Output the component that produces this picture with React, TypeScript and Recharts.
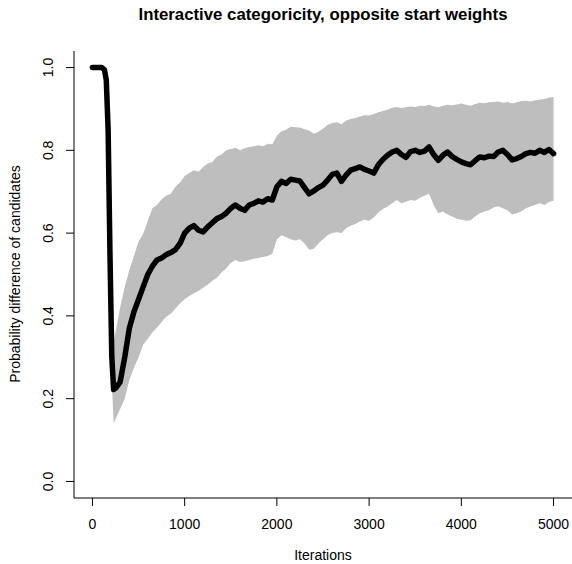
import { ComposedChart, Area, Line, XAxis, YAxis } from "recharts";

const FONT = '"Liberation Sans", Arial, Helvetica, sans-serif';

// iteration grid (x)
const iterations = [
  0, 50, 100, 130, 150, 170, 190, 210, 230,
  250, 300, 350, 400, 450, 500, 550, 600, 650, 700,
  750, 800, 850, 900, 950, 1000, 1050, 1100, 1150, 1200,
  1250, 1300, 1350, 1400, 1450, 1500, 1550, 1600, 1650, 1700,
  1750, 1800, 1850, 1900, 1950, 2000, 2050, 2100, 2150, 2200,
  2250, 2300, 2350, 2400, 2450, 2500, 2550, 2600, 2650, 2700,
  2750, 2800, 2850, 2900, 2950, 3000, 3050, 3100, 3150, 3200,
  3250, 3300, 3350, 3400, 3450, 3500, 3550, 3600, 3650, 3700,
  3750, 3800, 3850, 3900, 3950, 4000, 4050, 4100, 4150, 4200,
  4250, 4300, 4350, 4400, 4450, 4500, 4550, 4600, 4650, 4700,
  4750, 4800, 4850, 4900, 4950, 5000,
];

// mean probability difference
const meanDiff = [
  1.0, 1.0, 1.0, 0.995, 0.97, 0.85, 0.55, 0.3, 0.222,
  0.225, 0.24, 0.3, 0.37, 0.41, 0.44, 0.47, 0.5, 0.52, 0.535,
  0.54, 0.548, 0.553, 0.56, 0.575, 0.6, 0.612, 0.618, 0.607, 0.603,
  0.615, 0.625, 0.635, 0.64, 0.648, 0.66, 0.668, 0.66, 0.655, 0.668,
  0.672, 0.678, 0.675, 0.683, 0.68, 0.712, 0.725, 0.72, 0.73, 0.728,
  0.726, 0.71, 0.695, 0.702, 0.71, 0.716, 0.728, 0.742, 0.745, 0.725,
  0.74, 0.752, 0.756, 0.76, 0.754, 0.75, 0.745, 0.765, 0.778, 0.788,
  0.796, 0.8, 0.79, 0.783, 0.797, 0.8, 0.795, 0.798, 0.808, 0.79,
  0.776, 0.788, 0.796, 0.785, 0.778, 0.772, 0.768, 0.765, 0.775, 0.784,
  0.782, 0.786, 0.785, 0.796, 0.8, 0.79, 0.777, 0.78, 0.785, 0.792,
  0.795, 0.793, 0.8, 0.795, 0.802, 0.792,
];

// band bounds (null before the band starts)
const upperBand = [
  null, null, null, null, null, null, null, 0.25, 0.34,
  0.36, 0.42, 0.47, 0.51, 0.545, 0.58, 0.598, 0.63, 0.66, 0.668,
  0.682, 0.69, 0.695, 0.712, 0.722, 0.738, 0.745, 0.752, 0.748, 0.76,
  0.768, 0.772, 0.785, 0.79, 0.8, 0.803, 0.806, 0.8, 0.805, 0.808,
  0.81, 0.812, 0.81, 0.816, 0.815, 0.835, 0.846, 0.85, 0.857, 0.856,
  0.855, 0.851, 0.848, 0.84, 0.845, 0.852, 0.862, 0.866, 0.868, 0.863,
  0.872, 0.876, 0.878, 0.882, 0.885, 0.884, 0.888, 0.892, 0.895, 0.898,
  0.903, 0.905, 0.902, 0.904, 0.906, 0.905, 0.908, 0.907, 0.91, 0.906,
  0.904, 0.908, 0.91, 0.909, 0.911, 0.913, 0.91, 0.908, 0.912, 0.915,
  0.914, 0.916, 0.917, 0.918, 0.915, 0.917, 0.913, 0.916, 0.919, 0.92,
  0.918, 0.921, 0.922, 0.924, 0.927, 0.929,
];

const lowerBand = [
  null, null, null, null, null, null, null, 0.24, 0.14,
  0.15, 0.175, 0.2, 0.245, 0.275, 0.3, 0.33, 0.345, 0.36, 0.372,
  0.385, 0.398, 0.405, 0.418, 0.43, 0.44, 0.448, 0.455, 0.46, 0.468,
  0.475, 0.485, 0.492, 0.505, 0.515, 0.528, 0.535, 0.53, 0.532, 0.535,
  0.538, 0.54, 0.542, 0.545, 0.55, 0.585, 0.595, 0.59, 0.585, 0.582,
  0.585, 0.575, 0.56, 0.562, 0.575, 0.585, 0.595, 0.6, 0.602, 0.6,
  0.612, 0.618, 0.622, 0.628, 0.632, 0.63, 0.638, 0.65, 0.658, 0.664,
  0.672, 0.68, 0.672, 0.676, 0.68, 0.678, 0.685, 0.69, 0.696, 0.668,
  0.648, 0.652, 0.645, 0.64, 0.635, 0.632, 0.63, 0.631, 0.64, 0.648,
  0.652, 0.655, 0.662, 0.665, 0.66, 0.655, 0.645, 0.648, 0.652, 0.66,
  0.664, 0.668, 0.672, 0.668, 0.675, 0.678,
];

const xTicks = [0, 1000, 2000, 3000, 4000, 5000];
const yTicks = [0, 0.2, 0.4, 0.6, 0.8, 1.0];

const data = iterations.map((it, i) => ({
  it,
  mean: meanDiff[i],
  band: lowerBand[i] == null ? null : [lowerBand[i], upperBand[i]],
}));

const YTick = ({ x, y, payload }: any) => (
  <text
    x={x}
    y={y}
    transform={`rotate(-90, ${x}, ${y})`}
    textAnchor="middle"
    dominantBaseline="central"
    fontSize={14}
    fontFamily={FONT}
    fill="#000"
  >
    {Number(payload.value).toFixed(1)}
  </text>
);

export default function App() {
  return (
    <div style={{ position: "absolute", left: 0, top: 0, width: 572, height: 564, background: "#fff", fontFamily: FONT }}>
      <div
        style={{
          position: "absolute", left: 74, width: 498, top: 6, textAlign: "center",
          fontWeight: "bold", fontSize: 16.8, lineHeight: "18px", color: "#000",
        }}
      >
        Interactive categoricity, opposite start weights
      </div>
      <div
        style={{
          position: "absolute", left: 15 - 200, top: 274 - 8, width: 400, textAlign: "center",
          fontSize: 14, lineHeight: "16px", transform: "rotate(-90deg)", color: "#000",
        }}
      >
        Probability difference of candidates
      </div>
      <div
        style={{
          position: "absolute", left: 74, width: 498, top: 555 - 8, textAlign: "center",
          fontSize: 14, lineHeight: "16px", color: "#000",
        }}
      >
        Iterations
      </div>
      <ComposedChart width={572} height={564} data={data} margin={{ top: 51, right: 0, bottom: 0, left: 0 }}>
        <XAxis
          dataKey="it"
          type="number"
          domain={[-200, 5200]}
          ticks={xTicks}
          height={66}
          tickSize={8}
          tickMargin={13}
          stroke="#000"
          tickLine={{ stroke: "#000" }}
          tick={{ fontSize: 14, fill: "#000", fontFamily: FONT }}
          allowDataOverflow
        />
        <YAxis
          type="number"
          domain={[-0.04, 1.04]}
          ticks={yTicks}
          width={74}
          tickSize={8}
          tickMargin={18}
          stroke="#000"
          tickLine={{ stroke: "#000" }}
          tick={<YTick />}
          allowDataOverflow
        />
        <Area
          dataKey="band"
          type="linear"
          fill="#bebebe"
          fillOpacity={1}
          stroke="none"
          isAnimationActive={false}
          activeDot={false}
        />
        <Line
          dataKey="mean"
          type="linear"
          stroke="#000"
          strokeWidth={5.5}
          strokeLinejoin="round"
          strokeLinecap="round"
          dot={false}
          activeDot={false}
          isAnimationActive={false}
        />
      </ComposedChart>
    </div>
  );
}
